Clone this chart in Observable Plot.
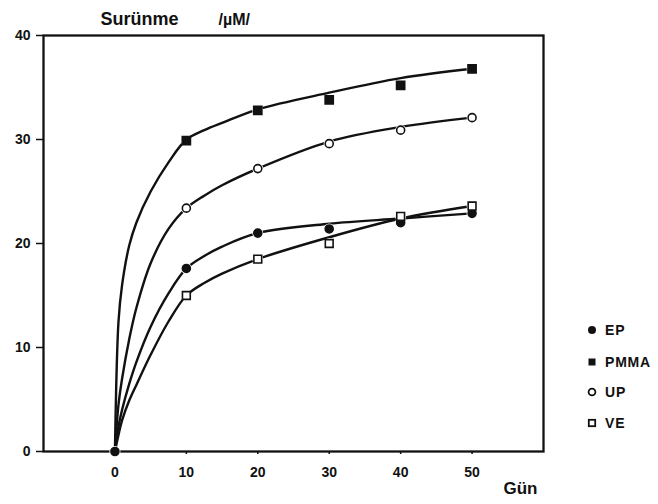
<!DOCTYPE html>
<html>
<head>
<meta charset="utf-8">
<script src="https://cdn.jsdelivr.net/npm/d3@7"></script>
<script src="https://cdn.jsdelivr.net/npm/@observablehq/plot@0.6"></script>
<style>
  html, body { margin: 0; padding: 0; background: #fff; }
  #chart { position: relative; width: 658px; height: 504px; font-family: "Liberation Sans", Arial, sans-serif; }
  #chart svg { display: block; }
  .legend { position: absolute; left: 585px; top: 320px; font-weight: bold; font-size: 14px; color: #111; letter-spacing: 0.8px; }
  .legend .item { position: absolute; left: 0; height: 20px; display: flex; align-items: center; white-space: nowrap; }
  .legend svg { margin-right: 6px; }
</style>
</head>
<body>
<div id="chart"></div>
<script>
// Measured creep (µm) per day for each resin
const days = [0, 10, 20, 30, 40, 50];
const epValues   = [0, 17.6, 21.0, 21.4, 22.0, 22.9];
const pmmaValues = [0, 29.9, 32.8, 33.8, 35.2, 36.8];
const upValues   = [0, 23.4, 27.2, 29.6, 30.9, 32.1];
const veValues   = [0, 15.0, 18.5, 20.0, 22.6, 23.6];

// Smoothed trend curves drawn through the measurements
const curveDays  = [0, 0.5, 1, 2, 3, 5, 7.5, 10, 12.5, 15, 20, 30, 40, 50];
const epCurve    = [0, 2.4, 4.0, 6.5, 8.6, 12.0, 15.2, 17.6, 18.8, 19.7, 21.0, 21.9, 22.4, 22.9];
const pmmaCurve  = [0, 12.5, 16.0, 19.8, 22.0, 25.0, 27.8, 30.0, 30.9, 31.6, 32.9, 34.5, 35.9, 36.8];
const upCurve    = [0, 4.5, 7.0, 10.8, 13.8, 18.1, 21.4, 23.4, 24.6, 25.6, 27.2, 29.8, 31.2, 32.1];
const veCurve    = [0, 1.6, 3.0, 4.9, 6.4, 9.3, 12.5, 15.0, 16.2, 17.1, 18.5, 20.6, 22.4, 23.6];

const seriesNames = ["EP", "PMMA", "UP", "VE"];
const xTicks = [0, 10, 20, 30, 40, 50];
const yTicks = [0, 10, 20, 30, 40];

const ink = "#111";
const styles = {
  EP:   {symbol: "circle", fill: ink,    r: 4},
  PMMA: {symbol: "square", fill: ink,    r: 4.6},
  UP:   {symbol: "circle", fill: "#fff", r: 4},
  VE:   {symbol: "square", fill: "#fff", r: 4.4}
};

const measured = [epValues, pmmaValues, upValues, veValues];
const curves = [epCurve, pmmaCurve, upCurve, veCurve];

const points = seriesNames.flatMap((s, i) =>
  days.map((d, j) => ({series: s, day: d, value: measured[i][j]})));
const trend = seriesNames.flatMap((s, i) =>
  curveDays.map((d, j) => ({series: s, day: d, value: curves[i][j]})));

// the origin is shared by all series; mark it once with the EP dot
const markerPoints = points.filter(d => d.day > 0 || d.series === "EP");

const chart = Plot.plot({
  width: 658,
  height: 504,
  marginLeft: 43,
  marginTop: 35,
  marginRight: 115,
  marginBottom: 53,
  style: {fontFamily: "'Liberation Sans', Arial, sans-serif", fontSize: "14px", fontWeight: "bold", color: ink, background: "#fff"},
  x: {domain: [-10, 60], ticks: xTicks, tickSize: 3, tickPadding: 13, label: null},
  y: {domain: [0, 40], ticks: yTicks, tickSize: 7, tickPadding: 6, label: null},
  marks: [
    Plot.frame({stroke: ink, strokeWidth: 2.3}),
    Plot.axisX({ticks: xTicks, tickSize: 3, tickPadding: 13, label: null, stroke: ink, strokeWidth: 1.5}),
    Plot.axisY({ticks: yTicks, tickSize: 7, tickPadding: 6, label: null, stroke: ink, strokeWidth: 1.5}),
    Plot.line(trend, {x: "day", y: "value", z: "series", curve: "catmull-rom", stroke: ink, strokeWidth: 2.4}),
    // white halo so markers sit in small gaps of the lines
    Plot.dot(markerPoints, {x: "day", y: "value", r: 5.5, fill: "#fff", stroke: null}),
    ...seriesNames.map(s => Plot.dot(markerPoints.filter(d => d.series === s), {
      x: "day", y: "value",
      symbol: styles[s].symbol,
      r: styles[s].r,
      fill: styles[s].fill,
      stroke: ink,
      strokeWidth: 1.6
    })),
    Plot.text(["Surünme"], {frameAnchor: "top-left", dx: 57, dy: -16, textAnchor: "start", lineAnchor: "middle", fontSize: 18, fontWeight: "bold", fill: ink, letterSpacing: 2}),
    Plot.text(["/µM/"], {frameAnchor: "top-left", dx: 175, dy: -16, textAnchor: "start", lineAnchor: "middle", fontSize: 16, fontWeight: "bold", fill: ink, letterSpacing: 2}),
    Plot.text(["Gün"], {frameAnchor: "bottom-right", dx: -6, dy: 37, textAnchor: "end", lineAnchor: "middle", fontSize: 17, fontWeight: "bold", fill: ink})
  ]
});

const root = document.getElementById("chart");
root.appendChild(chart);

// legend to the right of the frame
const legend = document.createElement("div");
legend.className = "legend";
const legendTops = [0, 32, 62, 93];
seriesNames.forEach((s, i) => {
  const st = styles[s];
  const solid = st.fill === ink;
  const item = document.createElement("div");
  item.className = "item";
  item.style.top = legendTops[i] + "px";
  const mark = st.symbol === "circle"
    ? `<circle cx="7" cy="7" r="${solid ? 4 : 3.4}" fill="${st.fill}" stroke="${ink}" stroke-width="${solid ? 0 : 1.8}"/>`
    : `<rect x="${solid ? 3.5 : 3.8}" y="${solid ? 3.5 : 3.8}" width="${solid ? 7 : 6.4}" height="${solid ? 7 : 6.4}" fill="${st.fill}" stroke="${ink}" stroke-width="${solid ? 0 : 1.8}"/>`;
  item.innerHTML = `<svg width="14" height="14" viewBox="0 0 14 14">${mark}</svg><span>${s}</span>`;
  legend.appendChild(item);
});
root.appendChild(legend);
</script>
</body>
</html>
